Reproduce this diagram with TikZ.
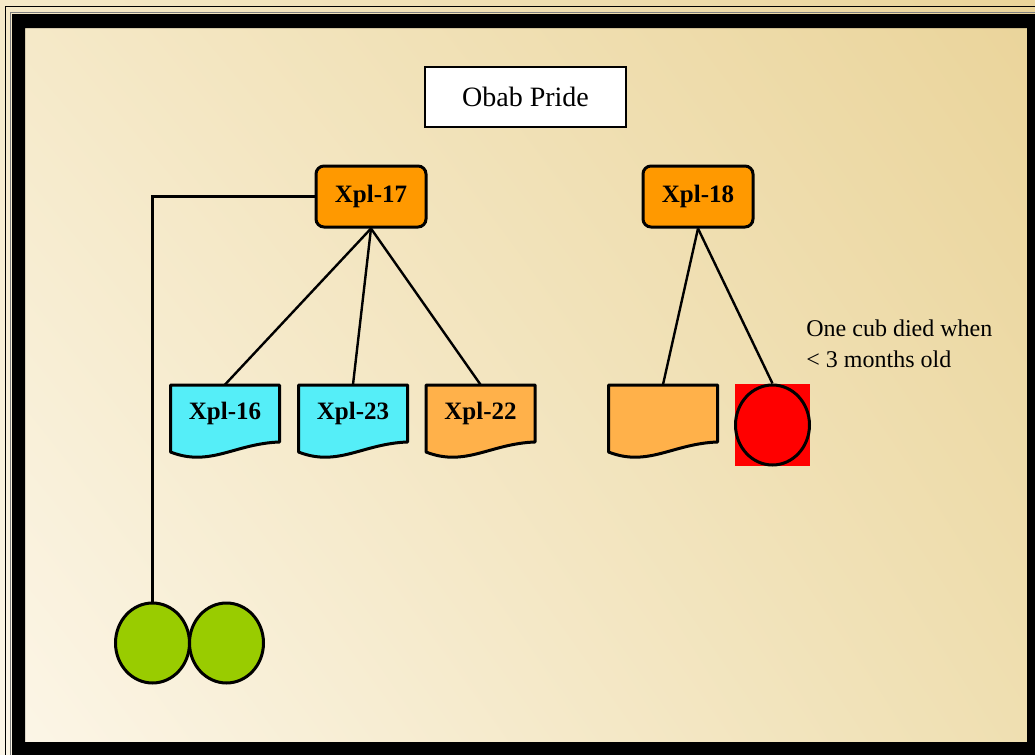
\documentclass[tikz,border=0pt]{standalone}
\usepackage{fontspec}
\setmainfont{Liberation Serif}
\usetikzlibrary{shapes.geometric,shadings}
\definecolor{tanlight}{HTML}{FCF6E8}
\definecolor{tandark}{HTML}{EAD49A}
\definecolor{tanmidA}{HTML}{F5E9C8}
\definecolor{tanmidB}{HTML}{EFDFB1}
\definecolor{lionorange}{HTML}{FF9900}
\definecolor{cubcyan}{HTML}{55EEF8}
\definecolor{cuborange}{HTML}{FFB14A}
\definecolor{cubgreen}{HTML}{99CC00}
% name, x, y, fill, label
\newcommand{\cubpaper}[5]{%
  \begin{scope}[shift={(#2,#3)}]
    \filldraw[fill=#4,line width=1.5pt,line join=round] (-54.5,-28.5) -- (54.5,-28.5) -- (54.5,28.5) .. controls (10,30) and (-15,54) .. (-54.5,38.5) -- cycle;
  \end{scope}
  \node[cubnode] (#1) at (#2,#3) {#5};}
\begin{document}
\begin{tikzpicture}[x=0.5pt,y=-0.5pt,
    lionbox/.style={draw,line width=1.5pt,rounded corners=4pt,fill=lionorange,minimum width=55pt,minimum height=30.5pt,font=\bfseries\fontsize{12.5}{14}\selectfont},
    cubnode/.style={minimum width=54.5pt,minimum height=28.5pt,inner sep=0pt,font=\bfseries\fontsize{12.5}{14}\selectfont},
    cubball/.style={ellipse,draw,line width=1.5pt,minimum width=37pt,minimum height=40pt,inner sep=0pt},
    link/.style={line width=1.2pt}]
  \useasboundingbox (0,0) rectangle (1035,755);
  \shade[lower left=tanlight,upper right=tandark,upper left=tanmidA,lower right=tanmidB] (0,0) rectangle (1035,755);
  \draw[line width=0.6pt] (5.5,6.5) rectangle (1045,765);
  \draw[gray,line width=0.6pt] (10.5,12.5) rectangle (1045,765);
  \fill[even odd rule] (12,14) rectangle (1035,755) (25,28) rectangle (1027,742);

  \node[draw,fill=white,line width=1.2pt,minimum width=100.5pt,minimum height=30pt,font=\fontsize{14}{16}\selectfont] (pride) at (525.5,97) {Obab Pride};
  \node[lionbox] (x17) at (371,196.5) {Xpl-17};
  \node[lionbox] (x18) at (698,196.5) {Xpl-18};

  \cubpaper{x16}{225}{413.5}{cubcyan}{Xpl-16}
  \cubpaper{x23}{353}{413.5}{cubcyan}{Xpl-23}
  \cubpaper{x22}{480.5}{413.5}{cuborange}{Xpl-22}
  \cubpaper{x18a}{663}{413.5}{cuborange}{}
  \fill[red] (735,384) rectangle (810,466);
  \node[cubball,fill=red] (dead) at (772.5,425) {};
  \node[cubball,fill=cubgreen] (g1) at (152.5,643) {};
  \node[cubball,fill=cubgreen] (g2) at (226.5,643) {};
  \node[anchor=west,align=left,inner sep=0pt,font=\fontsize{12}{15.5}\selectfont] (note) at (806,344) {One cub died when\\< 3 months old};

  \draw[link] (x17.west) -| (g1.north);
  \foreach \c in {x16,x23,x22} \draw[link] (x17.south) -- (\c.north);
  \foreach \c in {x18a,dead} \draw[link] (x18.south) -- (\c.north);
\end{tikzpicture}
\end{document}
